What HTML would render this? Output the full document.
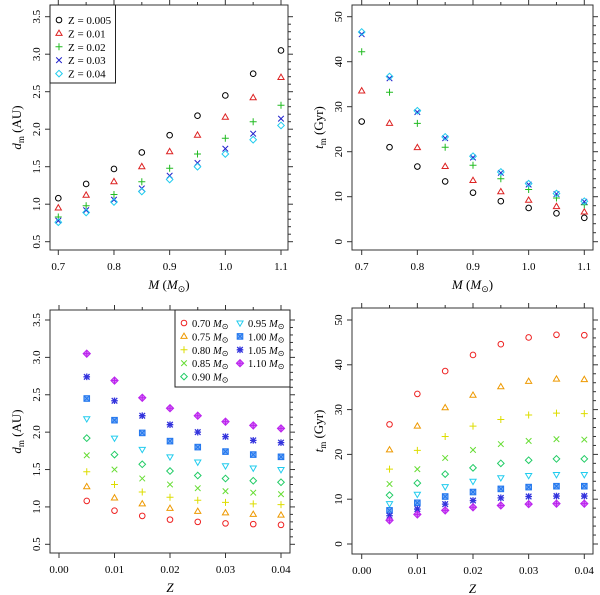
<!DOCTYPE html>
<html><head><meta charset="utf-8"><style>
body{margin:0;background:#fff}
svg{display:block;font-family:"Liberation Serif","Times New Roman",serif}
</style></head><body>
<svg id="chart" width="600" height="595" viewBox="0 0 600 595" xmlns="http://www.w3.org/2000/svg"></svg>
<script>
const masses=[0.70,0.75,0.80,0.85,0.90,0.95,1.00,1.05,1.10];
const metallicities=[0.005,0.01,0.015,0.02,0.025,0.03,0.035,0.04];
const dmValues=[
[1.08,0.95,0.88,0.83,0.80,0.78,0.77,0.76],
[1.27,1.12,1.04,0.98,0.94,0.92,0.90,0.89],
[1.47,1.30,1.20,1.13,1.09,1.06,1.04,1.03],
[1.69,1.50,1.38,1.30,1.25,1.21,1.19,1.17],
[1.92,1.70,1.57,1.48,1.42,1.38,1.35,1.33],
[2.18,1.92,1.77,1.67,1.60,1.55,1.52,1.50],
[2.45,2.16,1.99,1.88,1.80,1.74,1.70,1.67],
[2.74,2.42,2.22,2.10,2.00,1.94,1.89,1.86],
[3.05,2.69,2.46,2.32,2.22,2.14,2.09,2.05]];
const tmValues=[
[26.7,33.5,38.6,42.2,44.6,46.1,46.7,46.6],
[21.0,26.3,30.4,33.2,35.1,36.3,36.8,36.7],
[16.7,20.9,24.0,26.3,27.8,28.8,29.2,29.1],
[13.4,16.7,19.2,21.0,22.3,23.0,23.4,23.3],
[10.9,13.6,15.6,17.0,18.0,18.7,19.0,19.0],
[9.0,11.1,12.8,14.0,14.8,15.3,15.5,15.5],
[7.5,9.2,10.6,11.6,12.3,12.7,12.9,12.9],
[6.3,7.8,8.9,9.7,10.3,10.6,10.7,10.7],
[5.3,6.6,7.5,8.2,8.6,8.9,9.0,9.0]];
const topZIndices=[0,1,3,5,7];
const topZLabels=["Z = 0.005","Z = 0.01","Z = 0.02","Z = 0.03","Z = 0.04"];
const massLabels=["0.70","0.75","0.80","0.85","0.90","0.95","1.00","1.05","1.10"];
const mTicks=["0.7","0.8","0.9","1.0","1.1"];
const zTicks=["0.00","0.01","0.02","0.03","0.04"];
const dTicks=["0.5","1.0","1.5","2.0","2.5","3.0","3.5"];
const tTicks=["0","10","20","30","40","50"];

const topCols=["#000","#dd2222","#22bb22","#2222cc","#22ccee"];
const topSyms=["circle","tri","plus","cross","diamond"];
const massCols=["#ee2222","#ee9900","#dddd00","#66dd33","#22cc66","#22ccee","#2277ee","#3333dd","#bb22ee"];
const massSyms=["circle","tri","plus","cross","diamond","dtri","sqx","star","dplus"];

const NS="http://www.w3.org/2000/svg";
const svg=document.getElementById('chart');
function el(t,a,p){const e=document.createElementNS(NS,t);for(const k in a)e.setAttribute(k,a[k]);(p||svg).appendChild(e);return e;}

function sym(g,type,x,y,c){
  const s=2.8;let e;const st={fill:'none',stroke:c,'stroke-width':1};
  if(type==='circle')e=el('circle',Object.assign({cx:x,cy:y,r:s},st),g);
  else if(type==='tri')e=el('polygon',Object.assign({points:`${x},${y-s-0.5} ${x-s-0.3},${y+s-0.8} ${x+s+0.3},${y+s-0.8}`},st),g);
  else if(type==='dtri')e=el('polygon',Object.assign({points:`${x},${y+s+0.5} ${x-s-0.3},${y-s+0.8} ${x+s+0.3},${y-s+0.8}`},st),g);
  else if(type==='plus')e=el('path',Object.assign({d:`M${x-s-0.7},${y}h${2*s+1.4}M${x},${y-s-0.7}v${2*s+1.4}`},st),g);
  else if(type==='cross')e=el('path',Object.assign({d:`M${x-s},${y-s}L${x+s},${y+s}M${x-s},${y+s}L${x+s},${y-s}`},st),g);
  else if(type==='diamond')e=el('polygon',Object.assign({points:`${x},${y-s-0.5} ${x+s+0.5},${y} ${x},${y+s+0.5} ${x-s-0.5},${y}`},st),g);
  else if(type==='sqx'){e=el('g',{},g);el('rect',{x:x-s,y:y-s,width:2*s,height:2*s,fill:c,'fill-opacity':0.6,stroke:c},e);el('path',{d:`M${x-s},${y-s}L${x+s},${y+s}M${x-s},${y+s}L${x+s},${y-s}`,stroke:c},e);}
  else if(type==='star')e=el('path',Object.assign({d:`M${x-s},${y-s}L${x+s},${y+s}M${x-s},${y+s}L${x+s},${y-s}M${x-s-0.5},${y}h${2*s+1}M${x},${y-s-0.5}v${2*s+1}`},st,{'stroke-width':1.3}),g);
  else if(type==='dplus'){e=el('g',{},g);el('polygon',{points:`${x},${y-s-0.8} ${x+s+0.8},${y} ${x},${y+s+0.8} ${x-s-0.8},${y}`,fill:c,'fill-opacity':0.6,stroke:c},e);el('path',{d:`M${x-s},${y}h${2*s}M${x},${y-s}v${2*s}`,stroke:c},e);}
  return e;
}

function panel(p){
  const g=el('g',{});
  
  
  const sx=v=>p.x0+(v-p.xv0)/(p.xv1-p.xv0)*(p.x1-p.x0);
  const sy=v=>p.y0+(v-p.yv0)/(p.yv1-p.yv0)*(p.y1-p.y0);
  const fr=el('rect',{x:p.L,y:p.T,width:p.R-p.L,height:p.B-p.T,fill:'none',stroke:'#333','stroke-width':1},g);
  
  p.xt.forEach((lab,i)=>{const v=p.xtv[i];const x=sx(v);
    el('line',{x1:x,y1:p.B,x2:x,y2:p.B+5,stroke:'#333'},g);
    el('line',{x1:x,y1:p.T,x2:x,y2:p.T-5,stroke:'#333'},g);
    const t=el('text',{x:x,y:p.B+20,'text-anchor':'middle','font-size':11},g);t.textContent=lab;
    
  });
  for(let k=0;k<p.xt.length-1;k++){const x=sx((p.xtv[k]+p.xtv[k+1])/2);
    el('line',{x1:x,y1:p.T,x2:x,y2:p.T-3,stroke:'#333'},g);}
  p.yt.forEach((lab,i)=>{const v=p.ytv[i];const y=sy(v);
    el('line',{x1:p.L,y1:y,x2:p.L-5,y2:y,stroke:'#333'},g);
    el('line',{x1:p.R,y1:y,x2:p.R+5,y2:y,stroke:'#333'},g);
    const t=el('text',{x:p.L-10,y:y,'text-anchor':'middle','font-size':11,transform:`rotate(-90 ${p.L-10} ${y})`},g);t.textContent=lab;
    
  });
  for(let k=0;k<p.yt.length-1;k++){for(let m=1;m<5;m++){const y=sy(p.ytv[k]+(p.ytv[k+1]-p.ytv[k])*m/5);
    el('line',{x1:p.R,y1:y,x2:p.R+3,y2:y,stroke:'#333'},g);}}
  const xl=el('text',{x:(p.L+p.R)/2,y:p.B+39,'text-anchor':'middle','font-size':13},g);xl.innerHTML=p.xlab;
  
  const yc=(p.T+p.B)/2;
  const yl=el('text',{x:p.L-29,y:yc,'text-anchor':'middle','font-size':13,transform:`rotate(-90 ${p.L-29} ${yc})`},g);yl.innerHTML=p.ylab;
  
  p.draw(g,sx,sy);
  return g;
}
const dYlab='<tspan font-style="italic">d</tspan><tspan font-size="9" dy="3">m</tspan><tspan dy="-3"> (AU)</tspan>';
const tYlab='<tspan font-style="italic">t</tspan><tspan font-size="9" dy="3">m</tspan><tspan dy="-3"> (Gyr)</tspan>';
const mXlab='<tspan font-style="italic">M</tspan> (<tspan font-style="italic">M</tspan><tspan font-size="9" dy="3">⊙</tspan><tspan dy="-3">)</tspan>';

function topDraw(vals){return (g,sx,sy)=>{
  topZIndices.forEach((zi,s)=>{masses.forEach((m,i)=>{
    const e=sym(g,topSyms[s],sx(m),sy(vals[i][zi]),topCols[s]);
    
    
  });});
};}
function botDraw(vals){return (g,sx,sy)=>{
  masses.forEach((m,i)=>{metallicities.forEach((z,j)=>{
    const e=sym(g,massSyms[i],sx(z),sy(vals[i][j]),massCols[i]);
    
    
  });});
};}

panel({name:'panel-dm-vs-mass',L:50,R:288,T:5,B:250,x0:58.3,x1:281,xv0:0.7,xv1:1.1,y0:241.7,y1:16.7,yv0:0.5,yv1:3.5,
  xt:mTicks,xtv:mTicks.map(Number),yt:dTicks,ytv:dTicks.map(Number),xlab:mXlab,ylab:dYlab,draw:topDraw(dmValues)});
panel({name:'panel-tm-vs-mass',L:352,R:593,T:5,B:250,x0:361.7,x1:584.3,xv0:0.7,xv1:1.1,y0:241.7,y1:16.7,yv0:0,yv1:50,
  xt:mTicks,xtv:mTicks.map(Number),yt:tTicks,ytv:tTicks.map(Number),xlab:mXlab,ylab:tYlab,draw:topDraw(tmValues)});
panel({name:'panel-dm-vs-z',L:50,R:290,T:310,B:553,x0:59,x1:281,xv0:0,xv1:0.04,y0:544.3,y1:320,yv0:0.5,yv1:3.5,
  xt:zTicks,xtv:zTicks.map(Number),yt:dTicks,ytv:dTicks.map(Number),xlab:'<tspan font-style="italic">Z</tspan>',ylab:dYlab,draw:botDraw(dmValues)});
panel({name:'panel-tm-vs-z',L:352,R:593,T:308,B:554,x0:361.7,x1:584.3,xv0:0,xv1:0.04,y0:544,y1:320,yv0:0,yv1:50,
  xt:zTicks,xtv:zTicks.map(Number),yt:tTicks,ytv:tTicks.map(Number),xlab:'<tspan font-style="italic">Z</tspan>',ylab:tYlab,draw:botDraw(tmValues)});

const lg=el('g',{});


el('rect',{x:50,y:5,width:65.5,height:78,fill:'#fff',stroke:'#222'},lg);
topZLabels.forEach((lab,s)=>{const y=20+s*13.4;
  sym(lg,topSyms[s],59,y,topCols[s]);
  const t=el('text',{x:68,y:y+4,'font-size':11},lg);t.textContent=lab;
  });
const lg2=el('g',{});


el('rect',{x:175,y:310,width:115,height:77,fill:'#fff',stroke:'#222'},lg2);
massLabels.forEach((lab,i)=>{const col=i<5?0:1;const row=i<5?i:i-5;
  const x=184+col*56,y=323+row*13.4;
  sym(lg2,massSyms[i],x,y,massCols[i]);
  const t=el('text',{x:x+8,y:y+4,'font-size':10.5},lg2);
  t.innerHTML=lab+' <tspan font-style="italic">M</tspan><tspan font-size="8" dy="2">⊙</tspan>';
  });
</script>
</body></html>
